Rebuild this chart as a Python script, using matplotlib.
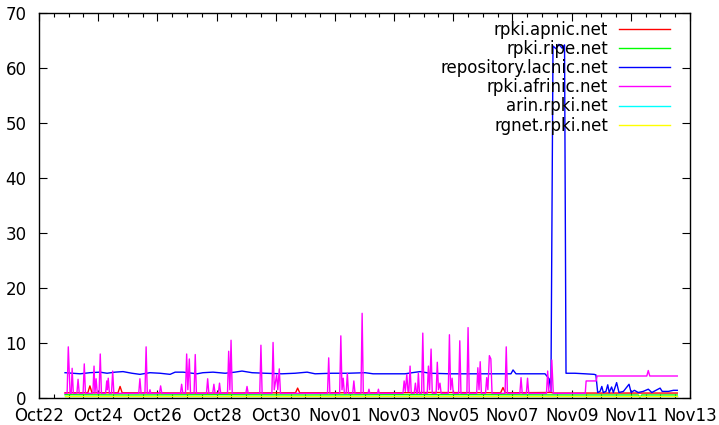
import numpy as np
import pandas as pd
import matplotlib
matplotlib.use("Agg")
import matplotlib.pyplot as plt
import matplotlib.dates as mdates

# ---- data (time = days since Oct22 00:00) ----
START = "2023-10-22"
series_names = ["rpki.apnic.net", "rpki.ripe.net", "repository.lacnic.net",
                "rpki.afrinic.net", "arin.rpki.net", "rgnet.rpki.net"]
series_colors = ["#ff0000", "#00ff00", "#0000ff", "#ff00ff", "#00ffff", "#ffff00"]

apnic_t = [0.88, 1.65, 1.72, 1.79, 2.67, 2.74, 2.81, 5.5, 8.67, 8.74, 8.81, 12.0,
           13.3, 15.6, 15.68, 15.76, 17.3, 17.4, 21.57]
apnic_v = [0.95, 0.95, 2.2, 0.95, 0.95, 2.1, 0.95, 0.9, 0.95, 1.8, 0.95, 0.95,
           1.0, 0.95, 1.9, 0.95, 1.0, 0.9, 0.9]

ripe_t = [0.88, 3.0, 6.0, 9.0, 12.0, 15.0, 18.0, 20.25, 20.31, 20.37, 21.57]
ripe_v = [0.6, 0.55, 0.6, 0.55, 0.6, 0.6, 0.55, 0.55, 0.1, 0.55, 0.55]

lacnic_t = [0.88, 1.39, 1.72, 2.06, 2.30, 2.57, 2.84, 3.14, 3.41, 3.75, 4.09, 4.43,
            4.60, 4.87, 5.34, 5.54, 5.88, 6.29, 6.62, 6.86, 7.20, 7.64, 8.21, 8.65,
            9.06, 9.33, 9.90, 10.44, 11.02, 11.29, 11.86, 12.37, 12.61, 12.88, 13.21,
            13.89, 14.57, 15.24, 15.75, 15.95, 16.02, 16.12, 16.59, 17.10, 17.24,
            17.30, 17.37, 17.47, 17.57, 17.68, 17.76, 17.81, 18.11, 18.45, 18.76,
            18.82, 18.88, 18.96, 19.02, 19.07, 19.16, 19.22, 19.27, 19.35, 19.41,
            19.52, 19.60, 19.75, 19.94, 20.01, 20.12, 20.25, 20.42, 20.59, 20.71,
            20.99, 21.06, 21.27, 21.44, 21.57]
lacnic_v = [4.6, 4.4, 4.6, 4.7, 4.5, 4.7, 4.8, 4.5, 4.3, 4.6, 4.5, 4.3,
            4.7, 4.7, 4.4, 4.6, 4.7, 4.5, 4.7, 4.9, 4.6, 4.5, 4.4, 4.5,
            4.7, 4.4, 4.5, 4.5, 4.6, 4.4, 4.4, 4.4, 4.6, 4.8, 4.5,
            4.4, 4.4, 4.4, 4.4, 4.4, 5.1, 4.4, 4.4, 4.4, 3.5,
            1.2, 64.0, 63.5, 64.3, 63.6, 64.2, 4.5, 4.5, 4.4, 4.3,
            4.2, 1.0, 1.2, 2.1, 1.0, 1.2, 2.4, 1.0, 2.0, 1.0,
            2.8, 1.0, 1.2, 2.5, 1.0, 1.4, 1.0, 1.2, 1.6, 1.0,
            1.8, 1.2, 1.2, 1.4, 1.4]

afrinic_t = [0.88, 0.95, 0.99, 1.05, 1.09, 1.12, 1.16, 1.28, 1.32, 1.36, 1.49, 1.53, 1.57,
             1.82, 1.86, 1.89, 1.93, 1.97, 2.03, 2.07, 2.11, 2.25, 2.29, 2.31, 2.34, 2.38,
             2.45, 2.49, 2.53, 3.37, 3.41, 3.45, 3.58, 3.62, 3.66, 3.72, 3.75, 3.78,
             4.07, 4.11, 4.15, 4.78, 4.82, 4.86, 4.95, 4.99, 5.03, 5.08, 5.12, 5.24, 5.28,
             5.32, 5.66, 5.70, 5.74, 5.87, 5.91, 5.95, 6.06, 6.10, 6.14, 6.37, 6.41, 6.45,
             6.49, 6.53, 6.99, 7.03, 7.07, 7.46, 7.50, 7.54, 7.87, 7.91, 7.95, 8.03, 8.07,
             8.12, 8.16, 9.75, 9.79, 9.83, 10.16, 10.20, 10.24, 10.28, 10.32, 10.38, 10.42,
             10.46, 10.60, 10.64, 10.68, 10.88, 10.92, 10.96, 11.12, 11.15, 11.18, 11.44,
             11.47, 11.50, 12.30, 12.34, 12.38, 12.43, 12.47, 12.50, 12.54, 12.58, 12.68,
             12.72, 12.76, 12.79, 12.82, 12.86, 12.93, 12.97, 13.01, 13.12, 13.16, 13.20,
             13.25, 13.29, 13.42, 13.46, 13.50, 13.55, 13.59, 13.83, 13.87, 13.91, 13.96,
             14.00, 14.18, 14.22, 14.26, 14.46, 14.50, 14.54, 14.79, 14.83, 14.87, 14.91,
             14.95, 15.09, 15.13, 15.17, 15.22, 15.27, 15.31, 15.75, 15.79, 15.83, 16.25,
             16.29, 16.33, 16.47, 16.51, 16.55, 17.15, 17.19, 17.23, 17.29, 17.33, 17.38,
             18.46, 18.49, 18.83, 18.86, 20.54, 20.59, 20.64, 21.57]
afrinic_v = [0.85, 0.85, 9.3, 0.85, 0.85, 5.4, 0.85, 0.85, 3.4, 0.85, 0.85, 6.2, 0.85,
             0.85, 5.8, 0.85, 3.5, 0.85, 0.85, 8.0, 0.85, 0.85, 3.1, 1.5, 3.6, 0.85,
             0.85, 4.9, 0.85, 0.85, 3.5, 0.85, 0.85, 9.3, 0.85, 0.85, 1.5, 0.85,
             0.85, 2.2, 0.85, 0.85, 2.5, 0.85, 0.85, 8.0, 1.5, 7.1, 0.85, 0.85, 7.9,
             0.85, 0.85, 3.5, 0.85, 0.85, 2.5, 0.85, 0.85, 2.7, 0.85, 0.85, 8.5, 1.5,
             10.5, 0.85, 0.85, 2.1, 0.85, 0.85, 9.6, 0.85, 0.85, 10.1, 1.5, 4.2, 1.5,
             5.3, 0.85, 0.85, 7.3, 0.85, 0.85, 11.3, 1.5, 3.6, 0.85, 0.85, 4.5,
             0.85, 0.85, 3.1, 0.85, 0.85, 15.4, 0.85, 0.85, 1.6, 0.85, 0.85,
             1.6, 0.85, 0.85, 3.1, 1.2, 4.3, 1.2, 1.2, 5.8, 0.85, 0.85,
             2.7, 0.85, 0.85, 4.5, 0.85, 0.85, 11.8, 0.85, 0.85, 5.8, 1.5,
             8.9, 0.85, 0.85, 6.5, 1.5, 2.7, 0.85, 0.85, 11.5, 1.5, 3.6,
             0.85, 0.85, 10.4, 0.85, 0.85, 12.8, 0.85, 0.85, 5.5, 1.5, 6.6,
             0.85, 0.85, 3.7, 1.5, 7.7, 7.1, 0.85, 0.85, 9.3, 0.85, 0.85,
             3.7, 0.85, 0.85, 3.6, 0.85, 0.85, 4.9, 1.2, 1.2, 6.9, 0.85,
             0.85, 3.1, 3.1, 4.0, 4.0, 5.0, 4.0, 4.0]

arin_t = [0.88, 21.57]
arin_v = [0.3, 0.3]

rgnet_t = [0.88, 5.0, 10.0, 15.0, 21.57]
rgnet_v = [0.3, 0.3, 0.3, 0.3, 0.3]

series_t = [apnic_t, ripe_t, lacnic_t, afrinic_t, arin_t, rgnet_t]
series_v = [apnic_v, ripe_v, lacnic_v, afrinic_v, arin_v, rgnet_v]

major_ticks = pd.date_range("2023-10-22", "2023-11-13", freq="2D")
minor_ticks = pd.date_range("2023-10-22", "2023-11-13", freq="12h")
y_ticks = [0, 10, 20, 30, 40, 50, 60, 70]

# ---- plotting ----
plt.rcParams["font.family"] = ["DejaVu Sans"]
fig = plt.figure(figsize=(7.19, 4.25), dpi=100)
ax = fig.add_axes([39 / 719, 27 / 425, 651 / 719, 385 / 425])

start = pd.Timestamp(START)
for name, col, t, v in zip(series_names, series_colors, series_t, series_v):
    x = start + pd.to_timedelta(np.array(t), unit="D")
    ax.plot(x, v, color=col, lw=1.0, label=name)

ax.set_xlim(major_ticks[0], major_ticks[-1])
ax.set_ylim(0, 70)
ax.set_xticks(major_ticks)
ax.set_xticks(minor_ticks, minor=True)
ax.xaxis.set_major_formatter(mdates.DateFormatter("%b%d"))
ax.set_yticks(y_ticks)

ax.tick_params(which="major", direction="in", length=5.8, width=0.8, top=True,
               right=True, labelsize=12, colors="black")
ax.tick_params(axis="x", which="major", pad=6.3)
ax.tick_params(axis="y", which="major", pad=9)
ax.tick_params(which="minor", direction="in", length=2.9, width=0.8, top=True,
               bottom=True)
for s in ax.spines.values():
    s.set_linewidth(1.0)

leg = ax.legend(loc="upper right", bbox_to_anchor=(0.969, 0.98), frameon=False,
                markerfirst=False, fontsize=12, handlelength=3.05,
                handletextpad=0.66, labelspacing=0.07, borderpad=0,
                borderaxespad=0)

fig.savefig("out.png", dpi=100)
